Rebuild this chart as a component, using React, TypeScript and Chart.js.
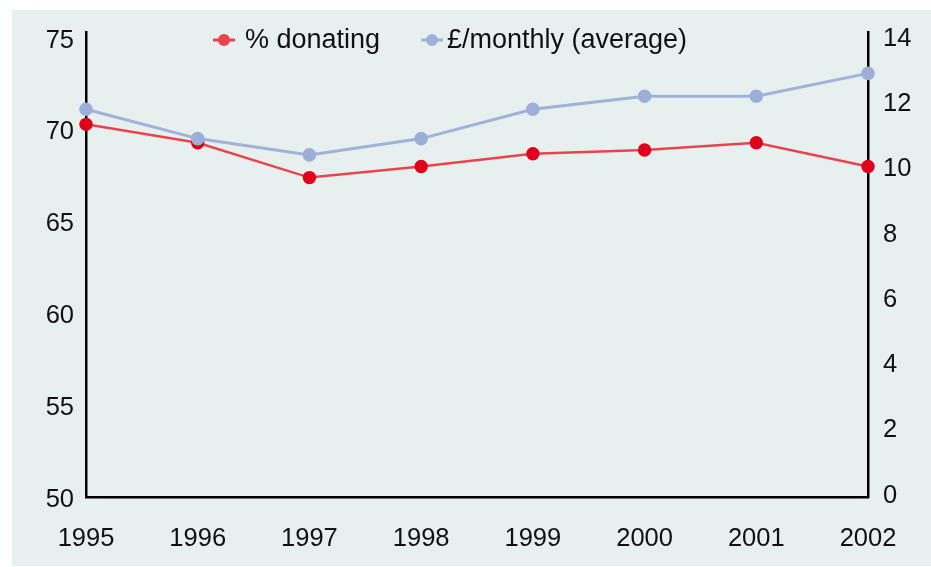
import React, { useEffect, useRef } from "react";
import { Chart, registerables } from "chart.js";

Chart.register(...registerables);

// ---- data ----
const years = ["1995", "1996", "1997", "1998", "1999", "2000", "2001", "2002"];
const donatingPct = [70.3, 69.3, 67.4, 68.0, 68.7, 68.9, 69.3, 68.0];
const monthlyAvg = [11.8, 10.9, 10.4, 10.9, 11.8, 12.2, 12.2, 12.9];
const leftTicks = [50, 55, 60, 65, 70, 75];
const rightTicks = [0, 2, 4, 6, 8, 10, 12, 14];
const seriesLabels = ["% donating", "£/monthly (average)"];

// ---- styles ----
const BG = "#e8f0ef";
const RED_LINE = "#e8444e";
const RED_POINT = "#e0001b";
const BLUE_LINE = "#9fb2d9";
const BLUE_POINT = "#9cafd8";
const FONT = '"Liberation Sans", Arial, Helvetica, sans-serif';

const legendPlugin = {
  id: "customLegend",
  afterDraw(chart: any) {
    const ctx = chart.ctx as CanvasRenderingContext2D;
    const items = [
      { label: seriesLabels[0], line: RED_LINE, point: RED_LINE, cx: 212, tx: 233 },
      { label: seriesLabels[1], line: BLUE_LINE, point: BLUE_LINE, cx: 420, tx: 435 },
    ];
    const my = 30;
    ctx.save();
    items.forEach((it) => {
      ctx.strokeStyle = it.line;
      ctx.lineWidth = 3;
      ctx.beginPath();
      ctx.moveTo(it.cx - 11, my);
      ctx.lineTo(it.cx + 11, my);
      ctx.stroke();
      ctx.fillStyle = it.point;
      ctx.beginPath();
      ctx.arc(it.cx, my, 6, 0, Math.PI * 2);
      ctx.fill();
      ctx.fillStyle = "#111";
      ctx.font = `27px ${FONT}`;
      ctx.textBaseline = "alphabetic";
      ctx.textAlign = "left";
      ctx.fillText(it.label, it.tx, 38);
    });
    ctx.restore();
  },
};

const noPad = (s: any) => {
  s.paddingTop = 0;
  s.paddingBottom = 0;
  s.paddingLeft = 0;
  s.paddingRight = 0;
};

export default function App() {
  const ref = useRef<HTMLCanvasElement | null>(null);

  useEffect(() => {
    if (!ref.current) return;
    const chart = new Chart(ref.current, {
      type: "line",
      data: {
        labels: years,
        datasets: [
          {
            label: seriesLabels[0],
            data: donatingPct,
            yAxisID: "yLeft",
            borderColor: RED_LINE,
            borderWidth: 2.5,
            backgroundColor: RED_POINT,
            pointBackgroundColor: RED_POINT,
            pointBorderColor: RED_POINT,
            pointRadius: 6.7,
            pointBorderWidth: 0,
            tension: 0,
            clip: false,
            order: 2,
          },
          {
            label: seriesLabels[1],
            data: monthlyAvg,
            yAxisID: "yRight",
            borderColor: BLUE_LINE,
            borderWidth: 3,
            backgroundColor: BLUE_POINT,
            pointBackgroundColor: BLUE_POINT,
            pointBorderColor: BLUE_POINT,
            pointRadius: 6.8,
            pointBorderWidth: 0,
            tension: 0,
            clip: false,
            order: 1,
          },
        ],
      },
      options: {
        animation: false,
        responsive: false,
        maintainAspectRatio: false,
        layout: { padding: { top: 22, left: 0, right: 0, bottom: 0 } },
        plugins: {
          legend: { display: false },
          tooltip: { enabled: false },
        },
        scales: {
          x: {
            type: "category",
            offset: false,
            grid: { display: false, drawTicks: false },
            border: { display: true, color: "#000", width: 2.5 },
            ticks: {
              color: "#111",
              font: { family: FONT, size: 25.5 },
              padding: 27,
              maxRotation: 0,
              autoSkip: false,
            },
            afterFit: (s: any) => {
              s.height = 69;
              noPad(s);
            },
          },
          yLeft: {
            type: "linear",
            position: "left",
            min: 50,
            max: 75.33,
            grid: { display: false, drawTicks: false },
            border: { display: true, color: "#000", width: 2.5 },
            ticks: {
              color: "#111",
              font: { family: FONT, size: 25.5 },
              padding: 12,
              labelOffset: 2.5,
            },
            afterBuildTicks: (s: any) => {
              s.ticks = leftTicks.map((v) => ({ value: v }));
            },
            afterFit: (s: any) => {
              s.width = 74;
              noPad(s);
            },
          },
          yRight: {
            type: "linear",
            position: "right",
            min: -0.092,
            max: 14.169,
            grid: { display: false, drawTicks: false },
            border: { display: true, color: "#000", width: 2.5 },
            ticks: {
              color: "#111",
              font: { family: FONT, size: 25.5 },
              padding: 15,
              labelOffset: 1.5,
            },
            afterBuildTicks: (s: any) => {
              s.ticks = rightTicks.map((v) => ({ value: v }));
            },
            afterFit: (s: any) => {
              s.width = 63;
              noPad(s);
            },
          },
        },
      },
      plugins: [legendPlugin],
    });
    return () => chart.destroy();
  }, []);

  return (
    <div
      style={{
        position: "absolute",
        left: 12,
        top: 10,
        width: 919,
        height: 556,
        background: BG,
      }}
    >
      <canvas ref={ref} width={919} height={556} style={{ display: "block" }} />
    </div>
  );
}
